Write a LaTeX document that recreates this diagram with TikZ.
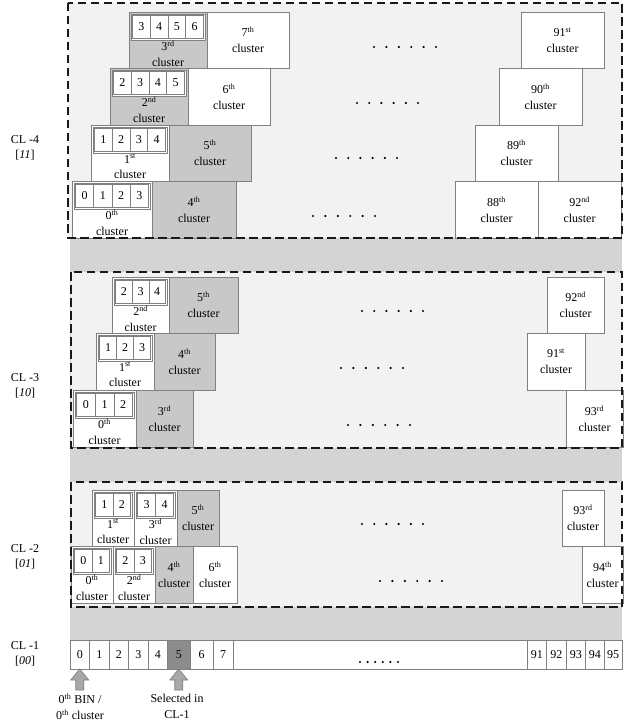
\documentclass[tikz,border=0pt]{standalone}
\usepackage{fontspec}
\setmainfont{Liberation Serif}
\usetikzlibrary{calc}
\definecolor{lightbg}{HTML}{F2F2F2}
\definecolor{band}{HTML}{D4D4D4}
\definecolor{gblk}{HTML}{C8C8C8}
\definecolor{bord}{HTML}{808080}
\definecolor{selc}{HTML}{8C8C8C}
\definecolor{arrf}{HTML}{A8A8A8}
\tikzset{
 blk/.style={draw=bord, line width=0.8pt, inner sep=0pt, outer sep=0pt},
 grp/.style={draw=bord, line width=0.6pt, fill=white, inner sep=0pt, outer sep=0pt},
 cellbox/.style={draw=bord, line width=0.6pt, inner sep=0pt, outer sep=0pt, font=\fontsize{12}{14}\selectfont},
 lbl/.style={align=center, inner sep=0pt, font=\fontsize{12}{16}\selectfont},
 sidelbl/.style={align=center, inner sep=0pt, font=\fontsize{12}{15}\selectfont},
 levelbox/.style={fill=lightbg, inner sep=0pt, outer sep=0pt},
 dashline/.style={draw=black!90, line width=1.8pt, dash pattern=on 8.5pt off 4.5pt},
 barrow/.style={fill=arrf, draw=bord, line width=0.7pt, line join=miter},
}
% name x1 y1 x2 y2 fill label
\newcommand{\bigcl}[7]{%
 \node[blk,fill=#6,minimum width={#4-#2},minimum height={#5-#3},anchor=north west] (#1) at (#2,#3) {};
 \node[lbl] (#1t) at (#1.center) {#7\\cluster};}
% name x1 y1 x2 y2 fill label n list
\newcommand{\smallcl}[9]{%
 \node[blk,fill=#6,minimum width={#4-#2},minimum height={#5-#3},anchor=north west] (#1) at (#2,#3) {};
 \node[grp,minimum width={#4-#2-4},minimum height=26,anchor=north west] (#1g) at ({#2+2},{#3+2}) {};
 \pgfmathsetmacro\cw{(#4-#2-7)/#8}
 \foreach \v [count=\i] in {#9} {
  \node[cellbox,fill=white,minimum width={\cw},minimum height=23,anchor=north west] (#1c\i) at ({#2+3.5+(\i-1)*\cw},{#3+3.5}) {\v};
 }
 \node[lbl,font=\fontsize{12}{15.5}\selectfont] (#1t) at ({(#2+#4)/2},{#3+41.5}) {#7\\cluster};}
\newcommand{\dotrow}[3]{%
 \foreach \k in {0,...,5} \fill ({#1+\k*(#2-#1)/5},#3) circle (1.2pt);}
\newcommand{\sth}{\textsuperscript{th}}
\begin{document}
\begin{tikzpicture}[x=1pt,y=-1pt]
\useasboundingbox (0,0) rectangle (627,722);
% gray background bands
\fill[band] (70,238) rectangle (622,640);
% level boxes (fill)
\node[levelbox,minimum width=554,minimum height=235,anchor=north west] (box4) at (68,3) {};
\node[levelbox,minimum width=551,minimum height=176,anchor=north west] (box3) at (71,272) {};
\node[levelbox,minimum width=551,minimum height=125,anchor=north west] (box2) at (71,482) {};

% ---------------- CL-4 ----------------
\smallcl{a3}{129}{12}{207}{68}{gblk}{3\textsuperscript{rd}}{4}{3,4,5,6}
\bigcl{a7}{207}{12}{289}{68}{white}{7\sth}
\bigcl{a91}{521}{12}{604}{68}{white}{91\textsuperscript{st}}
\dotrow{374}{436}{47}
\smallcl{a2}{110}{68}{188}{125}{gblk}{2\textsuperscript{nd}}{4}{2,3,4,5}
\bigcl{a6}{188}{68}{270}{125}{white}{6\sth}
\bigcl{a90}{499}{68}{582}{125}{white}{90\sth}
\dotrow{357}{418}{103}
\smallcl{a1}{91}{125}{169}{181}{white}{1\textsuperscript{st}}{4}{1,2,3,4}
\bigcl{a5}{169}{125}{251}{181}{gblk}{5\sth}
\bigcl{a89}{475}{125}{558}{181}{white}{89\sth}
\dotrow{336}{397}{158}
\smallcl{a0}{72}{181}{152}{238}{white}{0\sth}{4}{0,1,2,3}
\bigcl{a4}{152}{181}{236}{238}{gblk}{4\sth}
\bigcl{a88}{455}{181}{538}{238}{white}{88\sth}
\bigcl{a92}{538}{181}{621}{238}{white}{92\textsuperscript{nd}}
\dotrow{313}{375}{216}

% ---------------- CL-3 ----------------
\smallcl{b2}{112}{277}{169}{333}{white}{2\textsuperscript{nd}}{3}{2,3,4}
\bigcl{b5}{169}{277}{238}{333}{gblk}{5\sth}
\bigcl{b92}{547}{277}{604}{333}{white}{92\textsuperscript{nd}}
\dotrow{362}{423}{311}
\smallcl{b1}{96}{333}{154}{390}{white}{1\textsuperscript{st}}{3}{1,2,3}
\bigcl{b4}{154}{333}{215}{390}{gblk}{4\sth}
\bigcl{b91}{527}{333}{585}{390}{white}{91\textsuperscript{st}}
\dotrow{341}{403}{368}
\smallcl{b0}{73}{390}{136}{447}{white}{0\sth}{3}{0,1,2}
\bigcl{b3}{136}{390}{193}{447}{gblk}{3\textsuperscript{rd}}
\bigcl{b93}{566}{390}{623}{447}{white}{93\textsuperscript{rd}}
\dotrow{348}{410}{425}

% ---------------- CL-2 ----------------
\smallcl{c1}{92}{490}{134}{546}{white}{1\textsuperscript{st}}{2}{1,2}
\smallcl{c3}{134}{490}{177}{546}{white}{3\textsuperscript{rd}}{2}{3,4}
\bigcl{c5}{177}{490}{219}{546}{gblk}{5\sth}
\bigcl{c93}{562}{490}{604}{546}{white}{93\textsuperscript{rd}}
\dotrow{362}{423}{524}
\smallcl{c0}{71}{546}{113}{603}{white}{0\sth}{2}{0,1}
\smallcl{c2}{113}{546}{155}{603}{white}{2\textsuperscript{nd}}{2}{2,3}
\bigcl{c4}{155}{546}{193}{603}{gblk}{4\sth}
\bigcl{c6}{193}{546}{237}{603}{white}{6\sth}
\bigcl{c94}{582}{546}{623}{603}{white}{94\sth}
\dotrow{380}{442}{581}

% dashed outlines on top
\draw[dashline] (box4.north west) rectangle (box4.south east);
\draw[dashline] (box3.north west) rectangle (box3.south east);
\draw[dashline] (box2.north west) rectangle (box2.south east);

% ---------------- CL-1 ----------------
\foreach \xa/\xb/\t/\f in {70/89.5/0/white, 89.5/109/1/white, 109/128.5/2/white, 128.5/148/3/white, 148/167.5/4/white, 167.5/190/5/selc, 190/213/6/white, 213/233/7/white, 233/527/{}/white, 527/546.5/91/white, 546.5/566/92/white, 566/585.5/93/white, 585.5/604/94/white, 604/622/95/white} {
 \node[cellbox,fill=\f,minimum width={\xb-\xa},minimum height=29,anchor=north west] (bin\t) at (\xa,640) {\t};
}
\foreach \k in {0,...,5} \fill ({360+\k*7.6},662) circle (1.2pt);

% arrows
\draw[barrow] (bin0.south) -- ++(9,11) -- ++(-5,0) -- ++(0,10) -- ++(-8,0) -- ++(0,-10) -- ++(-5,0) -- cycle;
\draw[barrow] (bin5.south) -- ++(9,11) -- ++(-5,0) -- ++(0,10) -- ++(-8,0) -- ++(0,-10) -- ++(-5,0) -- cycle;
\node[lbl] (lab0) at (80,706.5) {0\sth{} BIN /\\0\sth{} cluster};
\node[lbl] (lab5) at (177,706.5) {Selected in\\CL-1};

% side labels
\node[sidelbl] (cl4) at (25,148) {CL -4\\{[}\textit{11}{]}};
\node[sidelbl] (cl3) at (25,386) {CL -3\\{[}\textit{10}{]}};
\node[sidelbl] (cl2) at (25,557) {CL -2\\{[}\textit{01}{]}};
\node[sidelbl] (cl1) at (25,654) {CL -1\\{[}\textit{00}{]}};
\end{tikzpicture}
\end{document}
